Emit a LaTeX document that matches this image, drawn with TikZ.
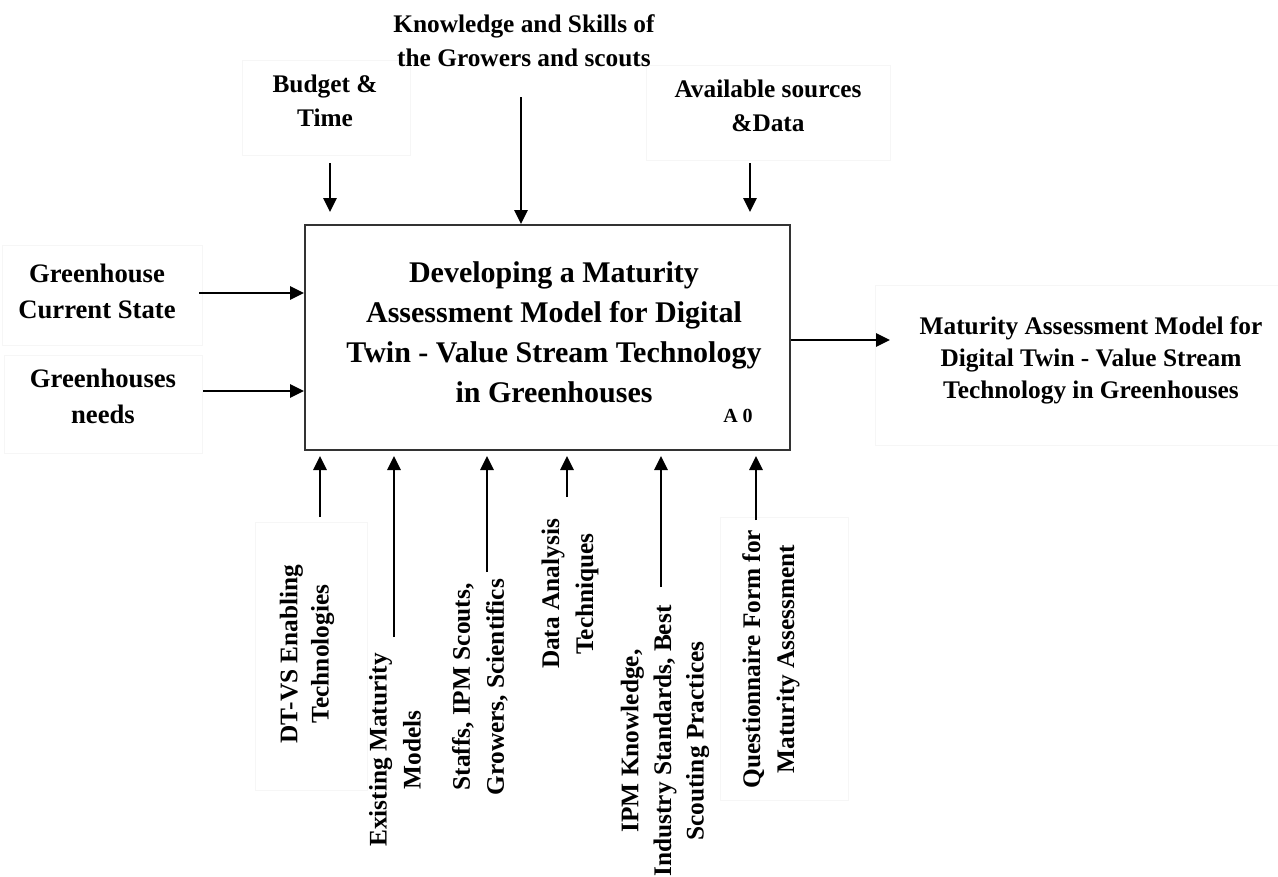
\documentclass[tikz,border=0pt]{standalone}
\usepackage{fontspec}
\setmainfont{Liberation Serif}
\usetikzlibrary{arrows.meta}
\begin{document}
\begin{tikzpicture}[x=0.75pt,y=-0.75pt,
  every node/.style={inner sep=0pt},
  lbl/.style={align=center, font=\fontsize{19}{25.5}\selectfont\bfseries},
  sidelbl/.style={align=center, font=\fontsize{20}{27}\selectfont\bfseries},
  vlbl/.style={lbl, rotate=90},
  flow/.style={line width=1.5pt, -{Triangle[length=10.5pt,width=10pt]}},
  frame/.style={draw=black!3.5, line width=0.5pt},
  activity/.style={draw=black!80, line width=1.5pt, minimum width=363.75pt, minimum height=168.75pt},
]
\useasboundingbox (0,0) rectangle (1278,876);

% faint text-box outlines
\draw[frame] (242,60) rectangle (410,155);
\draw[frame] (646,65) rectangle (890,160);
\draw[frame] (2,245) rectangle (202,345);
\draw[frame] (4,355) rectangle (202,453);
\draw[frame] (875,285) rectangle (1280,445);
\draw[frame] (255,522) rectangle (367,790);
\draw[frame] (720,517) rectangle (848,800);

% activity box A0
\node[activity] (box) at (547.5,337.5) {};
\node[align=center, font=\fontsize{22.5}{30}\selectfont\bfseries] (title) at (554,332.5)
  {Developing a Maturity\\Assessment Model for Digital\\Twin - Value Stream Technology\\in Greenhouses};
\node[font=\fontsize{15}{18}\selectfont\bfseries, anchor=base] (num) at (738,422) {A 0};

% controls (top)
\node[lbl] (budget) at (325,101) {Budget \&\\Time};
\node[lbl] (skills) at (524,41) {Knowledge and Skills of\\the Growers and scouts};
\node[lbl] (sources) at (768,106) {Available sources\\\&Data};

\coordinate (budget-s) at (330,163);
\coordinate (budget-e) at (330,212);
\coordinate (skills-s) at (521,97);
\coordinate (sources-s) at (750,163);
\coordinate (sources-e) at (750,212);
\draw[flow] (budget-s) -- (budget-e);
\draw[flow] (skills-s) -- (skills-s |- box.north);
\draw[flow] (sources-s) -- (sources-e);

% inputs (left)
\node[sidelbl] (state) at (97,291) {Greenhouse\\Current State};
\node[sidelbl] (needs) at (103,396) {Greenhouses\\needs};
\coordinate (state-s) at (199,293);
\coordinate (needs-s) at (203,391);
\draw[flow] (state-s) -- (state-s -| box.west);
\draw[flow] (needs-s) -- (needs-s -| box.west);

% output (right)
\node[lbl, font=\fontsize{19}{24}\selectfont\bfseries] (model) at (1091,360.5)
  {Maturity Assessment Model for\\Digital Twin - Value Stream\\Technology in Greenhouses};
\coordinate (model-e) at (890,340);
\draw[flow] (box.east |- model-e) -- (model-e);

% mechanisms (bottom)
\node[vlbl, font=\fontsize{19}{23.5}\selectfont\bfseries] (m1) at (307,654) {DT-VS Enabling\\Technologies};
\node[vlbl] (m2) at (395,750) {Existing Maturity\\Models};
\node[vlbl] (m3) at (480,687) {Staffs, IPM Scouts,\\Growers, Scientifics};
\node[vlbl] (m4) at (570,594) {Data Analysis\\Techniques};
\node[vlbl, font=\fontsize{19}{24.5}\selectfont\bfseries] (m5) at (665,741) {IPM Knowledge,\\Industry Standards, Best\\Scouting Practices};
\node[vlbl] (m6) at (771,659) {Questionnaire Form for\\Maturity Assessment};

\coordinate (m1-s) at (320,517);
\coordinate (m2-s) at (394,637);
\coordinate (m3-s) at (487,572);
\coordinate (m4-s) at (567,497);
\coordinate (m5-s) at (661,587);
\coordinate (m6-s) at (756,520);
\foreach \m in {m1,m2,m3,m4,m5,m6}
  \draw[flow] (\m-s) -- ([yshift=-3.75pt]\m-s |- box.south);
\end{tikzpicture}
\end{document}
